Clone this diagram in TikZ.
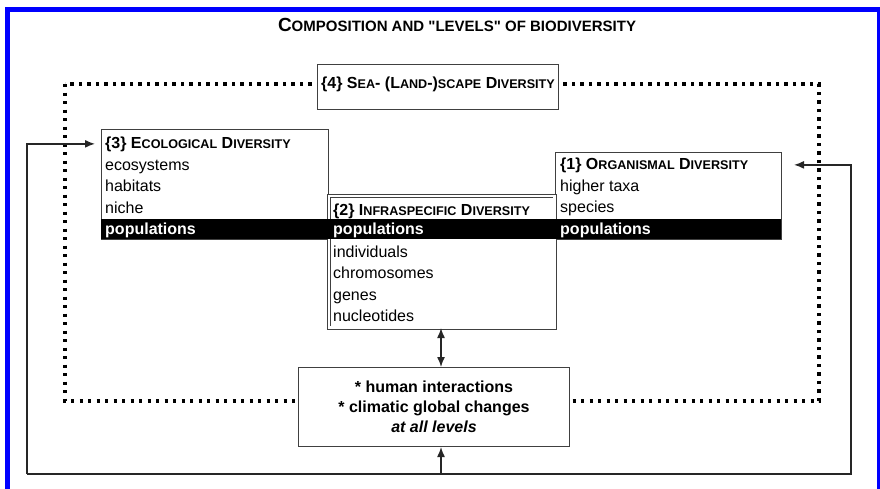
\documentclass[tikz,border=0pt]{standalone}
\usepackage{fontspec}
\newfontfamily\arialfont{Liberation Sans}
\usetikzlibrary{arrows.meta}

% fake small capitals
\newcommand{\smc}[1]{{\fontsize{12.6}{12.6}\selectfont #1}}
\newcommand{\tsmc}[1]{{\fontsize{15}{15}\selectfont #1}}

\tikzset{
  box/.style={draw=black!75, line width=1pt, fill=white, inner sep=0pt, anchor=north west},
  item/.style={anchor=base west, inner sep=0pt, font=\arialfont\fontsize{16}{18}\selectfont},
  head/.style={item, font=\arialfont\fontsize{16}{18}\selectfont\bfseries},
  band/.style={fill=black, text=white, inner ysep=0pt, anchor=north west, align=left,
    text height=15.5pt, text depth=4.5pt, font=\arialfont\fontsize{16}{18}\selectfont\bfseries},
  link/.style={line width=1.4pt, draw=black!85, -{Latex[length=10pt,width=8pt]}},
  dots/.style={line width=3.2pt, dash pattern=on 3.2pt off 5.3pt}
}

\begin{document}
\begin{tikzpicture}[x=1pt,y=-1pt]
\useasboundingbox (0,0) rectangle (880,488);

% frame of the figure
\draw[blue, line width=5pt] (7,495) -- (7,9.5) -- (879.5,9.5) -- (879.5,495);

\node[font=\arialfont\fontsize{19}{21}\selectfont\bfseries] (title) at (457,25)
  {C\tsmc{OMPOSITION AND "LEVELS" OF BIODIVERSITY}};

% level 4 - dotted frame
\draw[dots] (65,84) rectangle (819,401);
\node[box, minimum width=241pt, text height=24pt, text depth=21pt,
  font=\arialfont\fontsize{16}{18}\selectfont\bfseries] (sea) at (317,64)
  {\{4\} S\smc{EA}- (L\smc{AND}-)\smc{SCAPE} D\smc{IVERSITY}};

% level 3
\node[box, minimum width=227pt, minimum height=110pt] (eco) at (101,129) {};
\node[head] (ecohead) at (105,148) {\{3\} E\smc{COLOGICAL} D\smc{IVERSITY}};
\node[item] (ecosys) at (105,170) {ecosystems};
\node[item] (habit) at (105,191.5) {habitats};
\node[item] (niche) at (105,213) {niche};

% level 1
\node[box, minimum width=226pt, minimum height=87pt] (org) at (555,152) {};
\node[head] (orghead) at (560,169) {\{1\} O\smc{RGANISMAL} D\smc{IVERSITY}};
\node[item] (taxa) at (560,191) {higher taxa};
\node[item] (species) at (560,212.5) {species};

% level 2
\node[box, double, double distance=2.2pt, line width=0.9pt,
  minimum width=225.2pt, minimum height=131.2pt] (infra) at (328.9,195.9) {};
\node[head] (infrahead) at (333,215) {\{2\} I\smc{NFRASPECIFIC} D\smc{IVERSITY}};
\node[item] (indiv) at (333,257) {individuals};
\node[item] (chromo) at (333,278.5) {chromosomes};
\node[item] (genes) at (333,300) {genes};
\node[item] (nucleo) at (333,321.5) {nucleotides};

% shared populations row
\node[band, text width=219pt, inner xsep=4pt] (ecopop) at (101,219) {populations};
\node[band, text width=218pt, inner xsep=5pt] (infrapop) at (328,219) {populations};
\node[band, text width=217pt, inner xsep=4pt] (orgpop) at (556,219) {populations};

% global changes
\node[box, minimum width=271pt, minimum height=79pt, align=center,
  font=\arialfont\fontsize{16}{20}\selectfont\bfseries] (impact) at (298,367)
  {* human interactions\\* climatic global changes\\\textit{at all levels}};

\coordinate (fbl) at (27,474);
\coordinate (fbr) at (851,474);
\coordinate (fbm) at (441,474);

\draw[link, {Latex[length=10pt,width=8pt]}-{Latex[length=10pt,width=8pt]}]
  (infra.south -| fbm) -- (impact.north -| fbm);
\draw[link] (fbm) -- (impact.south -| fbm);
\draw[link, shorten >=6pt] (fbl) -- (fbl |- ecohead) -- (eco.west |- ecohead);
\draw[link, shorten >=12pt] (fbl) -- (fbr) -- (fbr |- orghead) -- (org.east |- orghead);

\end{tikzpicture}
\end{document}
